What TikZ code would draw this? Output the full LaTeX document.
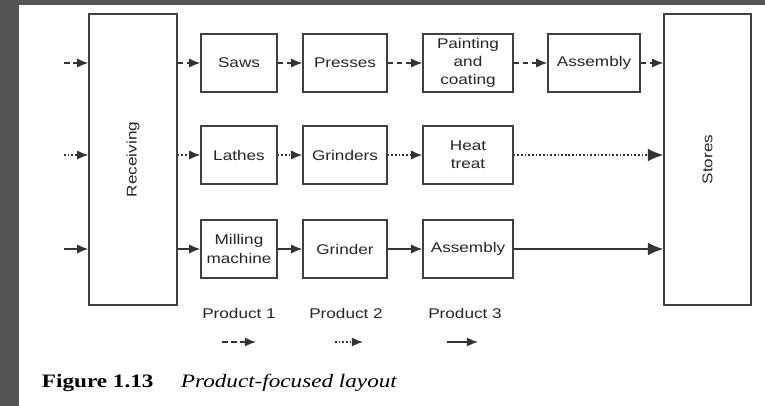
\documentclass[tikz,border=0pt]{standalone}
\usepackage{fontspec}
\setmainfont{Liberation Sans}[FakeStretch=1.22]
\newfontfamily\capfont{Liberation Serif}[FakeStretch=1.22]
\usetikzlibrary{arrows.meta,positioning}
\definecolor{edgedark}{RGB}{85,85,85}

\begin{document}
\begin{tikzpicture}[
  x=0.025cm, y=-0.025cm,
  stn/.style={draw=black!75, line width=0.9pt, minimum height=1.45cm,
              font=\fontsize{10}{13}\selectfont, align=center,
              inner sep=1pt, text=black!85},
  tall/.style={draw=black!75, line width=0.9pt,
               minimum width=2.2cm, minimum height=7.275cm},
  side/.style={font=\fontsize{10}{12}\selectfont, rotate=90, text=black!85},
  lbl/.style={font=\fontsize{10}{12}\selectfont, text=black!85},
  arr/.style={-{Latex[length=8pt,width=6.5pt]}, line width=1pt, black!80},
  big/.style={-{Latex[length=11pt,width=9pt]}},
  pa/.style={arr, dash pattern=on 4pt off 2.5pt},
  pb/.style={arr, dash pattern=on 1.2pt off 1.4pt},
  pc/.style={arr},
]

%% ---- Page frame ----
\fill[edgedark] (0,0) rectangle (765,406);
\fill[white] (19,5) rectangle (765,406);

%% ---- Receiving and stores ----
\node[tall] (recv) at (133,159.5) {};
\node[side] (recvtxt) at (recv.center) {Receiving};
\node[tall, minimum width=2.175cm] (stor) at (707.5,159.5) {};
\node[side] (stortxt) at (stor.center) {Stores};

%% ---- Product 1 line ----
\node[stn, minimum width=1.9cm]  (saws)  at (239,63) {Saws};
\node[stn, minimum width=2.1cm]  (press) at (345,63) {Presses};
\node[stn, minimum width=2.25cm] (paint) at (468,63) {Painting\\and\\coating};
\node[stn, minimum width=2.3cm]  (asma)  at (594,63) {Assembly};

%% ---- Product 2 line ----
\node[stn, minimum width=1.9cm]  (lathe) at (239,155) {Lathes};
\node[stn, minimum width=2.1cm]  (grnds) at (345,155) {Grinders};
\node[stn, minimum width=2.25cm] (heat)  at (468,155) {Heat\\treat};

%% ---- Product 3 line ----
\node[stn, minimum width=1.9cm]  (mill)  at (239,249) {Milling\\machine};
\node[stn, minimum width=2.1cm]  (grnd)  at (345,249) {Grinder};
\node[stn, minimum width=2.25cm] (asmc)  at (468,249) {Assembly};

%% ---- Incoming ----
\coordinate (in1) at (64,63);
\coordinate (in2) at (64,155);
\coordinate (in3) at (64,249);
\draw[pa] (in1) -- (in1 -| recv.west);
\draw[pb] (in2) -- (in2 -| recv.west);
\draw[pc] (in3) -- (in3 -| recv.west);

%% ---- Flows ----
\draw[pa] (recv.east |- saws) -- (saws);
\draw[pa] (saws) -- (press);
\draw[pa] (press) -- (paint);
\draw[pa] (paint) -- (asma);
\draw[pa] (asma) -- (stor.west |- asma);

\draw[pb] (recv.east |- lathe) -- (lathe);
\draw[pb] (lathe) -- (grnds);
\draw[pb] (grnds) -- (heat);
\draw[pb, big] (heat) -- (stor.west |- heat);

\draw[pc] (recv.east |- mill) -- (mill);
\draw[pc] (mill) -- (grnd);
\draw[pc] (grnd) -- (asmc);
\draw[pc, big] (asmc) -- (stor.west |- asmc);

%% ---- Legend ----
\node[lbl] (prd1) at (239,313) {Product 1};
\node[lbl] (prd2) at (346,313) {Product 2};
\node[lbl] (prd3) at (465,313) {Product 3};
\coordinate (k1a) at (222,342); \coordinate (k1b) at (256,342);
\coordinate (k2a) at (335,342); \coordinate (k2b) at (363,342);
\coordinate (k3a) at (447,342); \coordinate (k3b) at (478,342);
\draw[pa] (k1a) -- (k1b);
\draw[pb] (k2a) -- (k2b);
\draw[pc] (k3a) -- (k3b);

%% ---- Caption ----
\node[anchor=west, font=\capfont\fontsize{13.5}{16}\selectfont\bfseries]
  (fignum) at (37,383) {Figure 1.13};
\node[anchor=west, font=\capfont\fontsize{13.5}{16}\selectfont\itshape]
  (figcap) at (176,383) {Product-focused layout};

\end{tikzpicture}
\end{document}
